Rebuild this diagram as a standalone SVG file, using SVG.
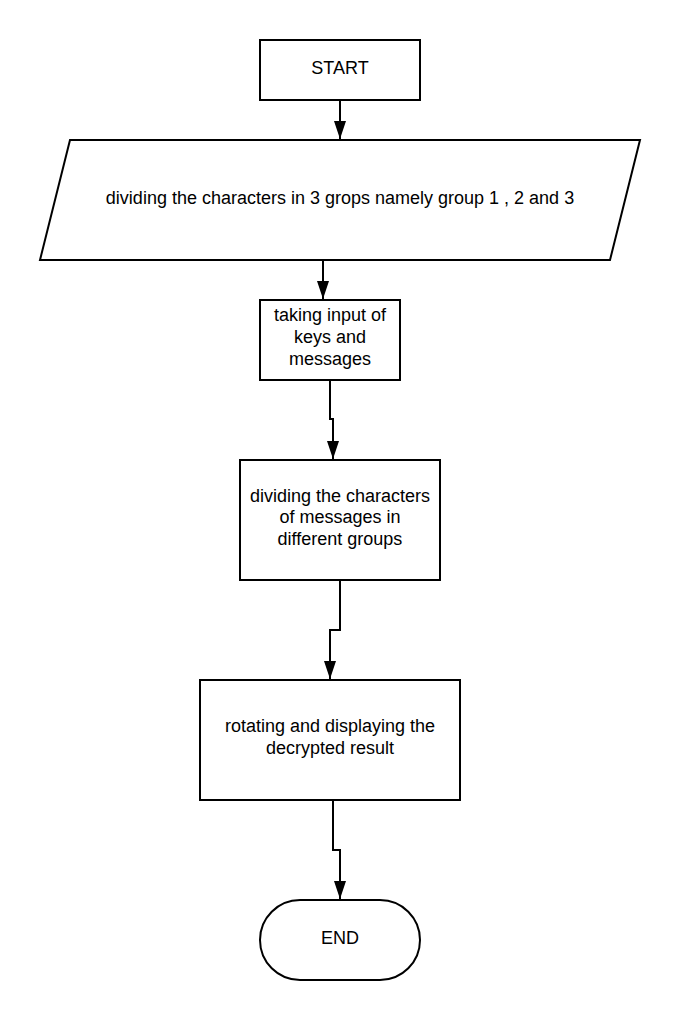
<svg xmlns="http://www.w3.org/2000/svg" width="680" height="1020" viewBox="0 0 680 1020">
<style>
.shape{fill:#fff;stroke:#000;stroke-width:2}
.conn{fill:none;stroke:#000;stroke-width:2}
text{font-family:"Liberation Sans",Arial,sans-serif;font-size:18px;fill:#000;text-anchor:middle}
</style>
<defs>
<marker id="arr" markerUnits="userSpaceOnUse" markerWidth="18" markerHeight="12" refX="18" refY="6" viewBox="0 0 18 12" orient="auto">
<path d="M0,0 L18,6 L0,12 Z" fill="#000"/>
</marker>
</defs>
<rect width="680" height="1020" fill="#fff"/>
<g id="connectors">
<path class="conn" d="M340,100 V139" marker-end="url(#arr)"/>
<path class="conn" d="M323,260 V299" marker-end="url(#arr)"/>
<path class="conn" d="M330,380 V419 H333 V459" marker-end="url(#arr)"/>
<path class="conn" d="M340,580 V630 H330 V679" marker-end="url(#arr)"/>
<path class="conn" d="M333,800 V850 H340 V899" marker-end="url(#arr)"/>
</g>
<g id="start">
<rect class="shape" x="260" y="40" width="160" height="60"/>
<text x="340" y="74">START</text>
</g>
<g id="divide-groups">
<polygon class="shape" points="70,140 640,140 610,260 40,260"/>
<text x="340" y="204">dividing the characters in 3 grops namely group 1 , 2 and 3</text>
</g>
<g id="input">
<rect class="shape" x="260" y="300" width="140" height="80"/>
<text x="330" y="321">taking input of</text>
<text x="330" y="343">keys and</text>
<text x="330" y="365">messages</text>
</g>
<g id="divide-messages">
<rect class="shape" x="240" y="460" width="200" height="120"/>
<text x="340" y="502">dividing the characters</text>
<text x="340" y="523">of messages in</text>
<text x="340" y="545">different groups</text>
</g>
<g id="rotate">
<rect class="shape" x="200" y="680" width="260" height="120"/>
<text x="330" y="732">rotating and displaying the</text>
<text x="330" y="754">decrypted result</text>
</g>
<g id="end">
<rect class="shape" x="260" y="900" width="160" height="80" rx="40" ry="40"/>
<text x="340" y="944">END</text>
</g>
</svg>
